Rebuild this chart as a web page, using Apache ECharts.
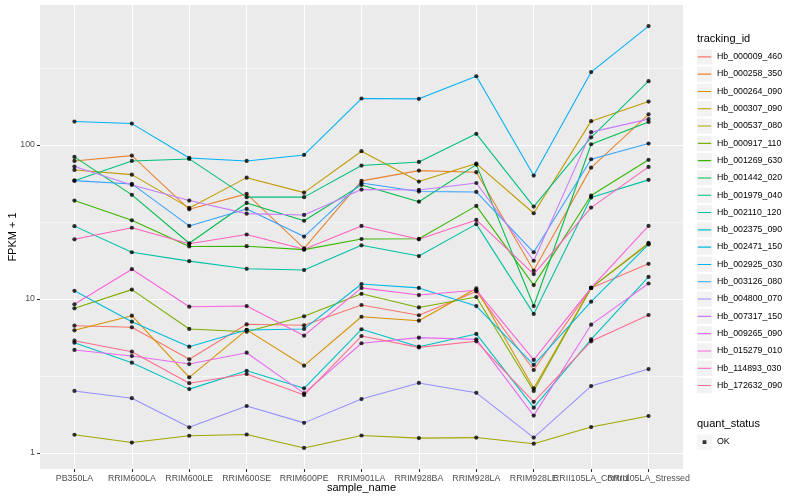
<!DOCTYPE html>
<html>
<head>
<meta charset="utf-8">
<script src="https://cdn.jsdelivr.net/npm/echarts@6/dist/echarts.min.js"></script>
<style>html,body{margin:0;padding:0;background:#fff;}#chart{width:800px;height:500px;}</style>
</head>
<body>
<div id="chart"></div>
<script>
// ---- data (FPKM + 1) ----
const samples = ['PB350LA','RRIM600LA','RRIM600LE','RRIM600SE','RRIM600PE','RRIM901LA','RRIM928BA','RRIM928LA','RRIM928LE','RRII105LA_Control','RRII105LA_Stressed'];
const trackingIds = ['Hb_000009_460','Hb_000258_350','Hb_000264_090','Hb_000307_090','Hb_000537_080','Hb_000917_110','Hb_001269_630','Hb_001442_020','Hb_001979_040','Hb_002110_120','Hb_002375_090','Hb_002471_150','Hb_002925_030','Hb_003126_080','Hb_004800_070','Hb_007317_150','Hb_009265_090','Hb_015279_010','Hb_114893_030','Hb_172632_090'];
const colors = ['#F8766D','#EA8331','#D89000','#C09B00','#A3A500','#7CAE00','#39B600','#00BB4E','#00BF7D','#00C1A3','#00BFC4','#00BAE0','#00B0F6','#35A2FF','#9590FF','#C77CFF','#E76BF3','#FA62DB','#FF62BC','#FF6C90'];

const v000009_460 = [6.71, 6.55, 4.06, 6.85, 6.75, 9.14, 7.84, 11.2, 3.46, 11.8, 16.9];
const v000258_350 = [78.7, 85.2, 38.2, 48.1, 21.3, 58.4, 68.1, 66.5, 15.3, 71.2, 158];
const v000264_090 = [6.26, 7.79, 3.10, 6.30, 3.69, 7.67, 7.23, 11.7, 2.63, 11.8, 23.1];
const v000307_090 = [68.8, 64.1, 39.0, 61.3, 49.0, 91.0, 57.8, 75.6, 36.0, 142.6, 191];
const v000537_080 = [1.315, 1.17, 1.295, 1.32, 1.08, 1.30, 1.25, 1.26, 1.15, 1.475, 1.74];
const v000917_110 = [8.70, 11.5, 6.39, 6.13, 7.72, 10.8, 8.81, 10.3, 2.53, 11.8, 22.8];
const v001269_630 = [43.5, 32.4, 21.9, 22.0, 20.9, 24.5, 24.6, 40.2, 12.3, 46.9, 80];
const v001442_020 = [83.6, 47.4, 23.0, 42.0, 32.2, 55.0, 42.8, 74.5, 9.0, 101, 141];
const v001979_040 = [58.6, 78.7, 81.1, 45.8, 45.8, 73.4, 77.5, 118, 39.8, 112, 259];
const v002110_120 = [29.7, 20.1, 17.6, 15.7, 15.4, 22.3, 19.0, 30.6, 8.0, 45.5, 59.3];
const v002375_090 = [5.20, 3.86, 2.60, 3.42, 2.63, 6.36, 4.90, 5.93, 1.97, 5.47, 13.9];
const v002471_150 = [11.3, 7.12, 4.90, 6.29, 6.39, 12.5, 11.8, 9.0, 3.73, 9.6, 22.6];
const v002925_030 = [141.7, 137.5, 82.3, 78.7, 86.1, 200, 199, 279, 63.2, 297, 590];
const v003126_080 = [58.6, 55.8, 29.8, 38.4, 25.4, 56.6, 49.8, 49.5, 20.1, 80.7, 102];
const v004800_070 = [2.53, 2.27, 1.47, 2.02, 1.57, 2.24, 2.85, 2.46, 1.26, 2.72, 3.51];
const v007317_150 = [72.3, 55.0, 43.5, 35.8, 35.1, 51.3, 51.0, 56.6, 17.7, 121, 147];
const v009265_090 = [4.67, 4.26, 3.78, 4.48, 2.44, 5.16, 5.61, 5.47, 1.75, 6.81, 12.6];
const v015279_010 = [9.24, 15.6, 8.91, 9.0, 5.78, 11.8, 10.6, 11.4, 4.02, 11.8, 29.8];
const v114893_030 = [24.4, 29.0, 22.8, 26.2, 21.0, 29.8, 24.4, 32.6, 14.5, 39.2, 72];
const v172632_090 = [5.36, 4.55, 2.84, 3.26, 2.38, 5.75, 4.85, 5.31, 2.15, 5.31, 7.87];

const seriesValues = [v000009_460, v000258_350, v000264_090, v000307_090, v000537_080, v000917_110, v001269_630, v001442_020, v001979_040, v002110_120, v002375_090, v002471_150, v002925_030, v003126_080, v004800_070, v007317_150, v009265_090, v015279_010, v114893_030, v172632_090];

const yTickLabels = [1, 10, 100];
const yMinorTicks = [Math.sqrt(10), 10 * Math.sqrt(10), 100 * Math.sqrt(10)];
const xTicks = samples.map((s, i) => i);
const xTicksEven = xTicks.filter(i => i % 2 === 0);
const xTicksOdd = xTicks.filter(i => i % 2 === 1);

// ---- chart ----
const FONT = "'Liberation Sans', Arial, Helvetica, sans-serif";
const chart = echarts.init(document.getElementById('chart'), null, {renderer: 'canvas'});

const lineSeries = trackingIds.map((id, i) => ({
  name: id,
  type: 'line',
  data: seriesValues[i].map((v, j) => [j, v]),
  symbol: 'none',
  showSymbol: false,
  color: colors[i],
  lineStyle: {color: colors[i], width: 1.07},
  z: 2,
  silent: true,
  animation: false
}));

const pointData = [];
seriesValues.forEach(arr => arr.forEach((v, j) => pointData.push([j, v])));

const bgIcon = 'path://M0,0h0.01v0.01H0z M15,17h-0.01v-0.01h0.01z M0,1h15v15.3H0z';
const lineIcon = 'path://M0,0h0.01v0.01H0z M15,17h-0.01v-0.01h0.01z M0.8,8.1h13.4v1.1H0.8z';
const dotIcon = 'path://M0,0h0.01v0.01H0z M15,17h-0.01v-0.01h0.01z M5.6,6.7h3.8v3.8H5.6z';

const legendCommon = {
  orient: 'vertical', left: 697, itemWidth: 15, itemHeight: 17, itemGap: 0.3,
  padding: 0, selectedMode: false, symbolKeepAspect: true
};

const xLabelStyle = {formatter: v => samples[Math.round(v)], color: '#4D4D4D', fontSize: 8.8, fontFamily: FONT, margin: 5, hideOverlap: false, showMinLabel: true, showMaxLabel: true};

const option = {
  backgroundColor: '#ffffff',
  animation: false,
  grid: {left: 40, top: 5, width: 643, height: 464, show: true, backgroundColor: '#EBEBEB', borderWidth: 0, containLabel: false, outerBoundsMode: 'none'},
  xAxis: [{
    type: 'value', min: -0.6, max: 10.6, position: 'bottom',
    axisLine: {show: false, onZero: false},
    axisTick: {show: true, length: 3, customValues: xTicks, lineStyle: {color: '#333333', width: 1.07}},
    axisLabel: Object.assign({customValues: xTicksEven}, xLabelStyle),
    splitLine: {show: true, lineStyle: {color: '#ffffff', width: 1.07}},
    name: 'sample_name', nameLocation: 'middle', nameGap: 13, nameMoveOverlap: false,
    nameTextStyle: {color: '#000', fontSize: 11, fontFamily: FONT}
  }, {
    type: 'value', min: -0.6, max: 10.6, position: 'bottom', offset: 0,
    axisLine: {show: false, onZero: false},
    axisTick: {show: false, customValues: xTicksOdd},
    axisLabel: Object.assign({customValues: xTicksOdd}, xLabelStyle),
    splitLine: {show: false}
  }],
  yAxis: [{
    type: 'log', logBase: 10, min: 0.788, max: 809, position: 'left',
    axisLine: {show: false, onZero: false},
    axisTick: {show: true, length: 3, customValues: yTickLabels, lineStyle: {color: '#333333', width: 1.07}},
    axisLabel: {customValues: yTickLabels, color: '#4D4D4D', fontSize: 8.8, fontFamily: FONT, margin: 5, showMinLabel: true, showMaxLabel: true},
    splitLine: {show: true, lineStyle: {color: '#ffffff', width: 1.07}},
    minorTick: {show: false}, minorSplitLine: {show: false},
    name: 'FPKM + 1', nameLocation: 'middle', nameGap: 22, nameMoveOverlap: false,
    nameTextStyle: {color: '#000', fontSize: 11, fontFamily: FONT}
  }, {
    type: 'log', logBase: 10, min: 0.788, max: 809, position: 'right',
    axisLine: {show: false, onZero: false},
    axisTick: {show: false, customValues: yMinorTicks},
    axisLabel: {show: false, customValues: yMinorTicks},
    splitLine: {show: true, lineStyle: {color: '#ffffff', width: 0.55}}
  }],
  legend: [
    Object.assign({}, legendCommon, {id: 'bg', data: trackingIds, top: 48.2, icon: bgIcon, z: 3,
      itemStyle: {color: '#F2F2F2', borderWidth: 0},
      textStyle: {color: 'rgba(0,0,0,0)', fontSize: 8.8, fontFamily: FONT}}),
    Object.assign({}, legendCommon, {id: 'fg', data: trackingIds, top: 48.2, icon: lineIcon, z: 4,
      itemStyle: {borderWidth: 0},
      textStyle: {color: '#000', fontSize: 8.8, fontFamily: FONT}}),
    Object.assign({}, legendCommon, {id: 'okbg', data: ['OK'], top: 433.5, icon: bgIcon, z: 3,
      itemStyle: {color: '#F2F2F2', borderWidth: 0},
      textStyle: {color: 'rgba(0,0,0,0)', fontSize: 8.8, fontFamily: FONT}}),
    Object.assign({}, legendCommon, {id: 'ok', data: ['OK'], top: 433.5, icon: dotIcon, z: 4,
      itemStyle: {color: '#000', borderWidth: 0},
      textStyle: {color: '#000', fontSize: 8.8, fontFamily: FONT}})
  ],
  graphic: [
    {type: 'text', left: 697, top: 33, style: {text: 'tracking_id', fill: '#000', font: '11px ' + FONT}},
    {type: 'text', left: 697, top: 418, style: {text: 'quant_status', fill: '#000', font: '11px ' + FONT}}
  ],
  series: lineSeries.concat([{
    name: 'OK', type: 'scatter', data: pointData, symbol: 'circle', symbolSize: 4.2,
    itemStyle: {color: '#000000'}, z: 3, silent: true, animation: false
  }])
};
chart.setOption(option);
</script>
</body>
</html>
